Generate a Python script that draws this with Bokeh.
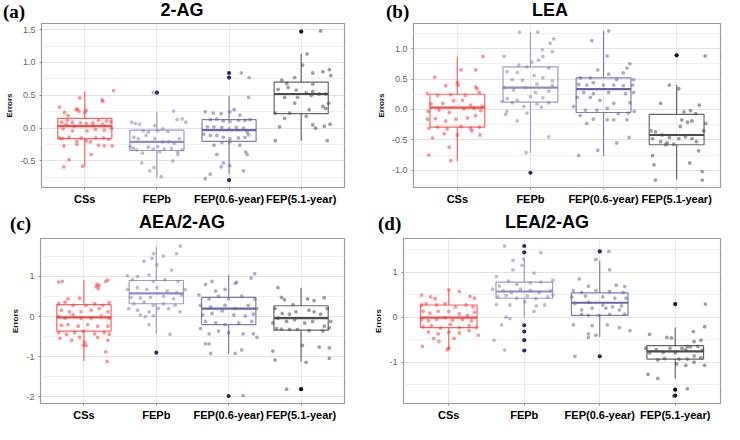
from bokeh.plotting import figure
from bokeh.layouts import row, column
from bokeh.models import FixedTicker, Range1d, NumeralTickFormatter, ColumnDataSource, Div
from bokeh.embed import file_html
from bokeh.resources import INLINE

CATS = ["CSs", "FEPb", "FEP(0.6-year)", "FEP(5.1-year)"]
GROUP_X = [1, 2, 3, 4]

# ---------------- panel (a) 2-AG ----------------
a_q1 = [-0.16, -0.34, -0.20, 0.22]
a_med = [0.03, -0.21, -0.03, 0.52]
a_q3 = [0.15, -0.03, 0.13, 0.70]
a_lo = [-0.585, -0.75, -0.70, -0.19]
a_hi = [0.56, 0.25, 0.49, 1.13]
a_out_grp = [2, 3, 3, 3, 4]
a_out_y = [0.54, 0.84, 0.77, -0.79, 1.47]
a_yticks = [-0.5, 0.0, 0.5, 1.0, 1.5]
a_css_dx = [-0.35,-0.28,-0.23,-0.08,-0.10,-0.12,-0.07,0.00,0.02,0.40,0.25,0.24,-0.32,-0.26,-0.17,-0.06,0.02,0.11,0.19,0.25,0.30,0.36,-0.30,-0.17,0.03,0.15,0.27,0.37,-0.35,-0.31,-0.22,-0.11,-0.05,0.02,0.15,0.26,0.33,0.38,-0.29,-0.11,0.08,0.19,-0.22,-0.29,-0.03,0.09,0.27,0.12,-0.24,-0.15]
a_css_y = [0.32,0.24,0.19,0.26,0.29,0.28,0.46,0.24,0.27,0.57,0.41,0.43,0.09,0.06,0.09,0.08,0.07,0.08,0.12,0.06,0.11,0.10,-0.01,-0.04,-0.04,-0.02,-0.03,0.00,-0.15,-0.16,-0.14,-0.20,-0.15,-0.19,-0.15,-0.15,-0.17,-0.27,-0.27,-0.25,-0.21,-0.26,-0.48,-0.59,-0.58,-0.40,-0.27,0.04,0.12,0.03]
a_fepb_dx = [-0.35,-0.30,-0.24,-0.19,-0.12,-0.03,0.01,0.08,0.15,0.23,0.28,0.35,0.40,-0.32,-0.26,-0.15,-0.03,0.08,0.16,0.24,0.31,-0.33,-0.28,-0.20,-0.12,-0.05,0.01,0.10,0.20,0.29,0.35,-0.21,-0.10,-0.04,0.06,0.22,0.29,-0.05,-0.37,0.04]
a_fepb_y = [0.09,0.07,0.06,-0.04,-0.06,0.04,-0.04,-0.01,-0.05,0.26,0.13,0.14,0.09,-0.14,-0.16,-0.11,-0.16,-0.21,-0.21,-0.23,-0.16,-0.31,-0.33,-0.38,-0.29,-0.32,-0.28,-0.32,-0.31,-0.36,-0.33,-0.53,-0.65,-0.60,-0.74,-0.50,-0.40,0.54,-0.28,-0.36]
a_f06_dx = [-0.33,-0.22,-0.11,0.01,0.07,0.15,0.27,0.28,0.17,-0.26,-0.17,-0.08,0.01,0.13,0.22,0.29,-0.30,-0.21,-0.10,0.00,0.10,0.20,0.25,-0.35,-0.26,-0.17,-0.08,0.01,0.13,0.22,0.27,-0.21,-0.10,0.01,0.15,0.23,0.25,-0.17,-0.08,-0.11,-0.33,-0.26,0.20,0.01]
a_f06_y = [0.25,0.23,0.22,0.25,0.28,0.20,0.47,0.77,0.84,0.13,0.14,0.11,0.10,0.12,0.12,0.13,0.02,0.02,0.01,-0.01,0.01,0.00,-0.06,-0.09,-0.11,-0.11,-0.14,-0.16,-0.15,-0.14,-0.10,-0.26,-0.22,-0.21,-0.26,-0.36,-0.40,-0.40,-0.53,-0.59,-0.77,-0.70,-0.65,-0.57]
a_f51_dx = [0.27,0.08,0.02,0.16,-0.09,-0.27,-0.20,-0.18,-0.32,-0.07,0.16,0.30,0.39,0.41,0.07,0.16,0.25,0.34,0.14,-0.23,-0.05,-0.36,-0.16,0.11,0.30,0.34,0.38,0.40,-0.23,0.07,0.16,0.20,0.32,-0.30,-0.36,0.36,-0.09]
a_f51_y = [1.48,1.13,0.96,0.84,0.77,0.73,0.68,0.62,0.59,0.58,0.67,0.86,0.89,0.80,0.54,0.56,0.52,0.52,0.50,0.47,0.47,0.23,0.23,0.28,0.33,0.30,0.38,0.06,0.15,0.18,0.05,0.00,0.03,0.02,-0.19,-0.19,0.38]

# ---------------- panel (b) LEA ----------------
b_q1 = [-0.29, 0.12, -0.05, -0.58]
b_med = [0.03, 0.36, 0.335, -0.42]
b_q3 = [0.25, 0.70, 0.52, -0.08]
b_lo = [-0.85, -0.71, -0.76, -1.15]
b_hi = [0.87, 1.27, 1.29, 0.40]
b_out_grp = [2, 4]
b_out_y = [-1.04, 0.89]
b_yticks = [-1.0, -0.5, 0.0, 0.5, 1.0]
b_css_dx = [0.35,0.25,0.05,-0.31,-0.16,0.00,0.01,0.25,0.27,-0.41,-0.27,-0.09,0.11,0.30,-0.36,-0.20,-0.05,0.07,0.18,0.34,-0.40,-0.25,-0.11,0.09,0.23,0.32,-0.41,-0.30,-0.16,-0.02,0.14,0.25,-0.39,-0.27,-0.14,0.05,0.18,0.30,-0.34,-0.18,0.00,0.20,0.31,-0.11,-0.39,-0.09]
b_css_y = [0.87,0.65,0.65,0.53,0.39,0.44,0.40,0.37,0.34,0.26,0.23,0.24,0.23,0.28,0.09,0.10,0.14,0.15,0.07,0.05,-0.03,-0.01,-0.05,0.01,0.02,-0.02,-0.16,-0.15,-0.19,-0.16,-0.14,-0.10,-0.31,-0.29,-0.32,-0.28,-0.31,-0.29,-0.47,-0.40,-0.42,-0.35,-0.42,-0.62,-0.75,-0.84]
b_fepb_dx = [-0.15,0.10,0.32,0.27,0.16,0.30,-0.36,0.17,0.11,0.02,-0.05,-0.16,0.25,-0.32,-0.18,0.05,0.17,0.30,-0.25,-0.11,0.09,0.30,-0.36,-0.23,-0.07,0.07,0.25,-0.32,-0.18,0.00,0.17,-0.39,-0.25,-0.09,0.09,0.25,-0.32,-0.34,-0.18,-0.05,0.15,0.25,-0.06]
b_fepb_y = [1.27,1.27,1.16,1.09,0.98,0.95,0.87,0.87,0.81,0.78,0.70,0.73,0.68,0.62,0.61,0.56,0.52,0.47,0.49,0.48,0.42,0.39,0.36,0.32,0.36,0.28,0.30,0.18,0.15,0.21,0.19,0.13,0.11,0.05,0.09,0.11,-0.03,-0.08,-0.19,-0.06,0.04,-0.45,-0.71]
b_f06_dx = [0.07,-0.16,0.05,0.36,0.32,0.27,-0.08,-0.32,-0.18,0.07,0.18,0.41,-0.34,-0.23,-0.14,0.00,0.14,0.27,0.40,-0.27,-0.14,0.07,0.30,0.41,-0.36,-0.18,-0.05,0.14,0.36,-0.41,-0.25,-0.09,0.05,0.20,0.34,0.42,-0.32,-0.14,0.05,0.14,0.32,-0.23,0.35,0.18,-0.08,-0.34]
b_f06_y = [1.29,1.13,0.88,0.75,0.68,0.60,0.65,0.52,0.52,0.58,0.49,0.49,0.41,0.40,0.44,0.40,0.40,0.39,0.40,0.28,0.26,0.28,0.26,0.28,0.20,0.20,0.15,0.10,0.11,0.05,-0.01,-0.01,0.02,-0.07,-0.06,-0.03,-0.10,-0.16,-0.17,-0.17,-0.17,-0.23,-0.46,-0.55,-0.67,-0.76]
b_f51_dx = [0.39,-0.10,0.03,-0.22,0.31,0.19,0.10,0.26,0.07,0.21,0.40,-0.35,-0.29,-0.20,-0.10,-0.33,-0.22,-0.13,-0.04,-0.15,0.03,0.12,0.21,0.27,0.37,-0.33,-0.31,-0.29,0.18,0.30,0.35,0.35,0.05,0.15]
b_f51_y = [0.88,0.40,0.34,0.10,0.07,-0.02,-0.04,-0.07,-0.17,-0.19,-0.23,-0.35,-0.37,-0.42,-0.46,-0.48,-0.53,-0.55,-0.57,-0.58,-0.48,-0.45,-0.48,-0.53,-0.35,-0.76,-0.91,-1.16,-0.88,-0.68,-1.02,-1.16,-0.28,-0.21]

# ---------------- panel (c) AEA/2-AG ----------------
c_q1 = [-0.36, 0.32, -0.20, -0.34]
c_med = [-0.02, 0.58, 0.20, -0.04]
c_q3 = [0.30, 0.90, 0.48, 0.27]
c_lo = [-1.11, -0.43, -0.92, -1.12]
c_hi = [0.91, 1.74, 1.04, 0.72]
c_out_grp = [2, 3, 4]
c_out_y = [-0.90, -1.98, -1.81]
c_yticks = [-2, -1, 0, 1]
c_css_dx = [-0.35,-0.30,0.18,0.21,0.30,0.33,0.17,0.20,-0.22,-0.06,-0.35,-0.26,-0.15,0.03,0.15,0.26,0.35,-0.31,-0.20,-0.04,0.10,0.21,0.33,-0.35,-0.26,-0.15,-0.04,0.10,0.24,0.35,-0.31,-0.22,-0.08,0.05,0.19,0.33,-0.35,-0.24,-0.13,-0.01,0.15,0.28,0.35,-0.33,-0.17,-0.06,0.01,0.19,0.33,-0.01,0.03,0.30,0.32]
c_css_y = [0.86,0.88,0.80,0.78,0.88,0.91,0.74,0.70,0.44,0.46,0.32,0.36,0.28,0.28,0.32,0.28,0.35,0.16,0.12,0.12,0.16,0.20,0.12,0.00,-0.04,0.04,-0.04,-0.04,0.02,-0.04,-0.22,-0.20,-0.24,-0.20,-0.24,-0.24,-0.40,-0.44,-0.40,-0.36,-0.43,-0.40,-0.44,-0.54,-0.59,-0.52,-0.64,-0.52,-0.59,-0.72,-0.72,-0.88,-1.12]
c_fepb_dx = [0.33,0.28,-0.04,0.10,-0.17,0.01,0.21,-0.40,-0.33,-0.26,-0.10,-0.04,0.12,0.30,-0.40,-0.26,-0.13,0.01,0.15,0.28,0.40,-0.35,-0.22,-0.08,0.10,0.24,0.35,-0.31,-0.17,-0.04,0.10,0.26,-0.38,-0.26,-0.10,0.03,0.17,0.33,-0.22,-0.15,-0.04,-0.10,0.19,-0.06]
c_fepb_y = [1.76,1.57,1.57,1.51,1.38,1.29,1.16,1.02,0.92,1.00,1.04,0.88,0.92,0.88,0.68,0.72,0.68,0.72,0.64,0.60,0.67,0.48,0.46,0.48,0.51,0.44,0.54,0.32,0.36,0.28,0.32,0.28,0.20,0.16,0.12,0.20,0.20,0.12,0.04,0.00,0.02,-0.20,-0.44,1.45]
c_f06_dx = [0.36,0.31,0.11,0.09,-0.32,-0.23,-0.05,-0.18,-0.14,-0.41,-0.27,0.00,0.18,0.36,-0.39,-0.25,-0.05,0.09,0.27,0.39,-0.36,-0.23,-0.09,0.07,0.23,0.34,-0.32,-0.18,-0.05,0.14,0.32,-0.39,-0.27,-0.14,0.00,0.20,0.34,-0.27,-0.32,0.09,0.18,0.39,-0.25,0.20]
c_f06_y = [1.07,0.96,0.86,0.83,0.80,0.88,0.68,0.64,0.51,0.54,0.44,0.44,0.51,0.44,0.28,0.24,0.28,0.20,0.28,0.20,0.04,0.08,0.14,0.04,0.02,0.06,-0.12,-0.16,-0.20,-0.16,-0.12,-0.30,-0.43,-0.36,-0.40,-0.43,-0.43,-0.68,-0.68,-0.92,-0.83,-0.52,-0.92,-1.97]
c_f51_dx = [-0.32,-0.27,-0.23,-0.11,0.09,0.18,0.32,-0.36,-0.26,-0.16,-0.07,0.11,0.18,0.27,0.36,-0.39,-0.32,-0.20,-0.09,0.05,0.16,0.32,0.41,-0.34,-0.27,-0.16,-0.05,0.11,0.30,0.39,0.02,0.25,-0.39,-0.36,0.39,0.07,0.39,-0.20]
c_f51_y = [0.72,0.48,0.42,0.30,0.44,0.40,0.47,0.20,0.08,0.06,0.12,0.16,0.12,0.06,0.20,-0.16,-0.04,-0.12,-0.08,-0.16,-0.12,-0.24,-0.12,-0.30,-0.31,-0.32,-0.32,-0.35,-0.36,-0.28,-0.72,-0.76,-0.86,-1.08,-0.78,-1.14,-1.04,-1.81]

# ---------------- panel (d) LEA/2-AG ----------------
d_q1 = [-0.23, 0.42, 0.04, -0.93]
d_med = [-0.01, 0.57, 0.32, -0.76]
d_q3 = [0.27, 0.78, 0.54, -0.63]
d_lo = [-0.72, -0.01, -0.44, -1.36]
d_hi = [0.61, 1.29, 1.26, -0.23]
d_out_grp = [2, 2, 2, 2, 2, 2, 3, 3, 4, 4, 4]
d_out_y = [1.58, 1.44, -0.18, -0.32, -0.51, -0.74, 1.46, -0.87, 0.29, -1.61, -1.74]
d_yticks = [-1, 0, 1]
d_css_dx = [-0.36,-0.24,-0.18,0.00,0.14,0.28,0.34,-0.36,-0.30,-0.16,-0.05,0.09,0.23,0.32,-0.34,-0.25,-0.14,0.00,0.14,0.25,0.34,-0.36,-0.27,-0.16,-0.05,0.05,0.18,0.30,-0.34,-0.23,-0.11,0.02,0.14,0.27,0.37,-0.27,-0.14,0.00,0.14,0.27,0.39,-0.13,0.00,-0.02,-0.35,-0.20,0.07]
d_css_y = [0.49,0.45,0.41,0.61,0.57,0.46,0.42,0.27,0.30,0.27,0.30,0.23,0.27,0.23,0.13,0.09,0.13,0.13,0.07,0.04,0.11,-0.05,-0.08,-0.05,-0.01,-0.07,-0.05,-0.08,-0.21,-0.19,-0.24,-0.16,-0.23,-0.19,-0.23,-0.33,-0.37,-0.33,-0.35,-0.30,-0.40,-0.54,-0.69,-0.72,-0.65,-0.47,-0.47]
d_fepb_dx = [-0.26,0.22,-0.15,-0.01,-0.03,-0.15,0.13,-0.37,-0.21,-0.33,-0.10,0.08,0.22,0.38,-0.42,-0.28,-0.17,-0.05,0.08,0.20,0.35,-0.35,-0.24,-0.10,0.04,0.15,0.31,0.38,-0.37,-0.19,0.01,0.16,0.27,0.13,-0.24,-0.19,-0.30,-0.40,-0.26]
d_fepb_y = [1.58,1.43,1.26,1.29,1.15,1.05,0.98,0.90,0.80,0.69,0.73,0.76,0.78,0.82,0.62,0.59,0.55,0.62,0.59,0.55,0.59,0.45,0.48,0.42,0.47,0.41,0.45,0.49,0.28,0.27,0.34,0.25,0.27,0.13,0.00,-0.03,-0.17,-0.51,-0.73]
d_f06_dx = [0.12,-0.05,0.13,-0.27,-0.15,0.22,0.33,-0.35,-0.24,-0.05,0.13,0.31,-0.37,-0.19,0.04,0.20,0.35,-0.33,-0.15,0.04,0.17,0.29,-0.24,-0.10,0.08,0.26,-0.24,-0.15,-0.01,0.13,0.33,-0.35,-0.10,0.10,0.26,0.40,-0.15,-0.05,-0.15,-0.33]
d_f06_y = [1.46,1.28,1.05,0.85,0.69,0.71,0.68,0.59,0.55,0.59,0.57,0.55,0.45,0.47,0.45,0.42,0.42,0.30,0.33,0.27,0.23,0.25,0.16,0.20,0.20,0.16,0.06,0.04,0.04,0.06,0.07,-0.17,-0.19,-0.17,-0.23,-0.30,-0.37,-0.40,-0.45,-0.87]
d_f51_dx = [0.40,0.39,-0.34,-0.11,-0.05,0.24,0.34,0.25,0.16,0.09,0.14,0.20,0.30,0.36,-0.39,-0.34,-0.25,-0.16,-0.07,0.00,0.05,0.16,0.25,0.34,-0.23,-0.14,0.02,0.14,0.25,0.39,-0.36,-0.23,0.16,-0.02]
d_f51_y = [0.29,-0.21,-0.38,-0.45,-0.46,-0.32,-0.51,-0.54,-0.65,-0.69,-0.72,-0.66,-0.65,-0.73,-0.69,-0.79,-0.72,-0.78,-0.69,-0.79,-0.93,-0.93,-0.86,-0.90,-0.95,-0.92,-1.04,-1.07,-1.00,-1.07,-1.27,-1.36,-1.59,-1.75]

# ---------------- styling ----------------
PT_COL = ["#ff3030", "#7c7cbc", "#5c5ca0", "#404040"]
BOX_COL = ["#ff4a4a", "#8c8cc6", "#6868a8", "#4c4c4c"]
OUT_COL = ["#ff2020", "#2c2c74", "#262668", "#111111"]
SANS = "Liberation Sans"
BOX_HALF = 0.375
PANEL_W = 362


def header(tag, title, title_x, tag_x, h):
    html = (
        f'<div style="position:relative;width:{PANEL_W}px;height:{h}px;overflow:visible;">'
        f'<span style="position:absolute;left:{tag_x}px;top:2px;line-height:1;'
        f'font-family:\'Liberation Serif\';font-weight:bold;font-size:19px;color:#000;">{tag}</span>'
        f'<span style="position:absolute;left:{title_x}px;top:1px;line-height:1;transform:translateX(-50%);'
        f'white-space:nowrap;font-family:\'Liberation Sans\';font-weight:bold;font-size:18px;color:#000;">{title}</span>'
        '</div>'
    )
    return Div(text=html, width=PANEL_W, height=h, margin=0)


def panel(q1, med, q3, lo, hi, out_grp, out_y, groups, yticks, fmt, h, bl, br, bb):
    all_y = lo + hi + out_y + [v for g in groups for v in g[1]]
    ymin, ymax = min(all_y), max(all_y)
    pad = (ymax - ymin) * 0.05
    p = figure(width=PANEL_W, height=h, output_backend="svg", toolbar_location=None,
               x_range=Range1d(0.4, 4.6), y_range=Range1d(ymin - pad, ymax + pad),
               min_border_left=bl, min_border_right=br, min_border_top=0,
               min_border_bottom=bb)
    p.background_fill_color = "white"
    p.border_fill_color = "white"
    p.outline_line_color = "#9a9a9a"
    p.outline_line_width = 1.2

    step = yticks[1] - yticks[0]
    mids = [t + step / 2 for t in yticks] + [yticks[0] - step / 2]
    p.yaxis.ticker = FixedTicker(ticks=yticks, minor_ticks=mids)
    p.yaxis.formatter = NumeralTickFormatter(format=fmt)
    p.xaxis.ticker = FixedTicker(ticks=GROUP_X, minor_ticks=[])
    p.xaxis.major_label_overrides = {GROUP_X[i]: CATS[i] for i in range(4)}

    p.ygrid.grid_line_color = "#e2e2e2"
    p.ygrid.minor_grid_line_color = "#f0f0f0"
    p.xgrid.grid_line_color = "#eaeaea"

    for ax in (p.xaxis, p.yaxis):
        ax.axis_line_color = None
        ax.major_tick_line_color = "#8a8a8a"
        ax.major_tick_out = 2
        ax.major_tick_in = 0
        ax.minor_tick_line_color = None
    p.yaxis.major_label_text_font = SANS
    p.yaxis.major_label_text_font_size = "9px"
    p.yaxis.major_label_text_color = "#666666"
    p.yaxis.major_label_standoff = 2
    p.yaxis.axis_label = "Errors"
    p.yaxis.axis_label_text_font = SANS
    p.yaxis.axis_label_text_font_size = "8px"
    p.yaxis.axis_label_text_font_style = "bold"
    p.yaxis.axis_label_text_color = "#111111"
    p.yaxis.axis_label_standoff = 3
    p.xaxis.major_label_text_font = SANS
    p.xaxis.major_label_text_font_size = "11px"
    p.xaxis.major_label_text_font_style = "bold"
    p.xaxis.major_label_text_color = "black"
    p.xaxis.major_label_standoff = 3

    box = ColumnDataSource(dict(
        x=GROUP_X, left=[x - BOX_HALF for x in GROUP_X], right=[x + BOX_HALF for x in GROUP_X],
        q1=q1, med=med, q3=q3, lo=lo, hi=hi, col=BOX_COL))
    p.segment(x0="x", y0="q3", x1="x", y1="hi", line_color="col", line_alpha=0.85, line_width=1.2, source=box)
    p.segment(x0="x", y0="q1", x1="x", y1="lo", line_color="col", line_alpha=0.85, line_width=1.2, source=box)
    p.quad(left="left", right="right", bottom="q1", top="q3", fill_color=None,
           line_color="col", line_alpha=0.85, line_width=1.2, source=box)
    p.segment(x0="left", y0="med", x1="right", y1="med", line_color="col", line_width=2.2, source=box)

    p.scatter(x=out_grp, y=out_y, size=4.2, marker="circle",
              color=[OUT_COL[g - 1] for g in out_grp], line_color=None)

    for gi, (dx, ys) in enumerate(groups):
        xs = [GROUP_X[gi] + d for d, _ in zip(dx, ys)]
        yy = [y for _, y in zip(dx, ys)]
        p.scatter(x=xs, y=yy, size=3.8, marker="circle", fill_color=PT_COL[gi],
                  fill_alpha=0.5, line_color=None)
    return p


TOP_HEAD, BOT_HEAD = 23, 26
pa = panel(a_q1, a_med, a_q3, a_lo, a_hi, a_out_grp, a_out_y,
           [(a_css_dx, a_css_y), (a_fepb_dx, a_fepb_y), (a_f06_dx, a_f06_y), (a_f51_dx, a_f51_y)],
           a_yticks, "0.0", 212 - TOP_HEAD, 41, 18, 25)
pb = panel(b_q1, b_med, b_q3, b_lo, b_hi, b_out_grp, b_out_y,
           [(b_css_dx, b_css_y), (b_fepb_dx, b_fepb_y), (b_f06_dx, b_f06_y), (b_f51_dx, b_f51_y)],
           b_yticks, "0.0", 212 - TOP_HEAD, 51, 4, 25)
pc = panel(c_q1, c_med, c_q3, c_lo, c_hi, c_out_grp, c_out_y,
           [(c_css_dx, c_css_y), (c_fepb_dx, c_fepb_y), (c_f06_dx, c_f06_y), (c_f51_dx, c_f51_y)],
           c_yticks, "0", 212 - BOT_HEAD, 40, 18, 21)
pd_ = panel(d_q1, d_med, d_q3, d_lo, d_hi, d_out_grp, d_out_y,
            [(d_css_dx, d_css_y), (d_fepb_dx, d_fepb_y), (d_f06_dx, d_f06_y), (d_f51_dx, d_f51_y)],
            d_yticks, "0", 212 - BOT_HEAD, 41, 4, 21)

ha = header("(a)", "2-AG", 182, 3, TOP_HEAD)
hb = header("(b)", "LEA", 188, 24, TOP_HEAD)
hc = header("(c)", "AEA/2-AG", 182, 10, BOT_HEAD)
hd = header("(d)", "LEA/2-AG", 185, 16, BOT_HEAD)

layout = column(row(column(ha, pa), column(hb, pb)),
                row(column(hc, pc), column(hd, pd_)))
open("out.html", "w").write(file_html(layout, INLINE))
